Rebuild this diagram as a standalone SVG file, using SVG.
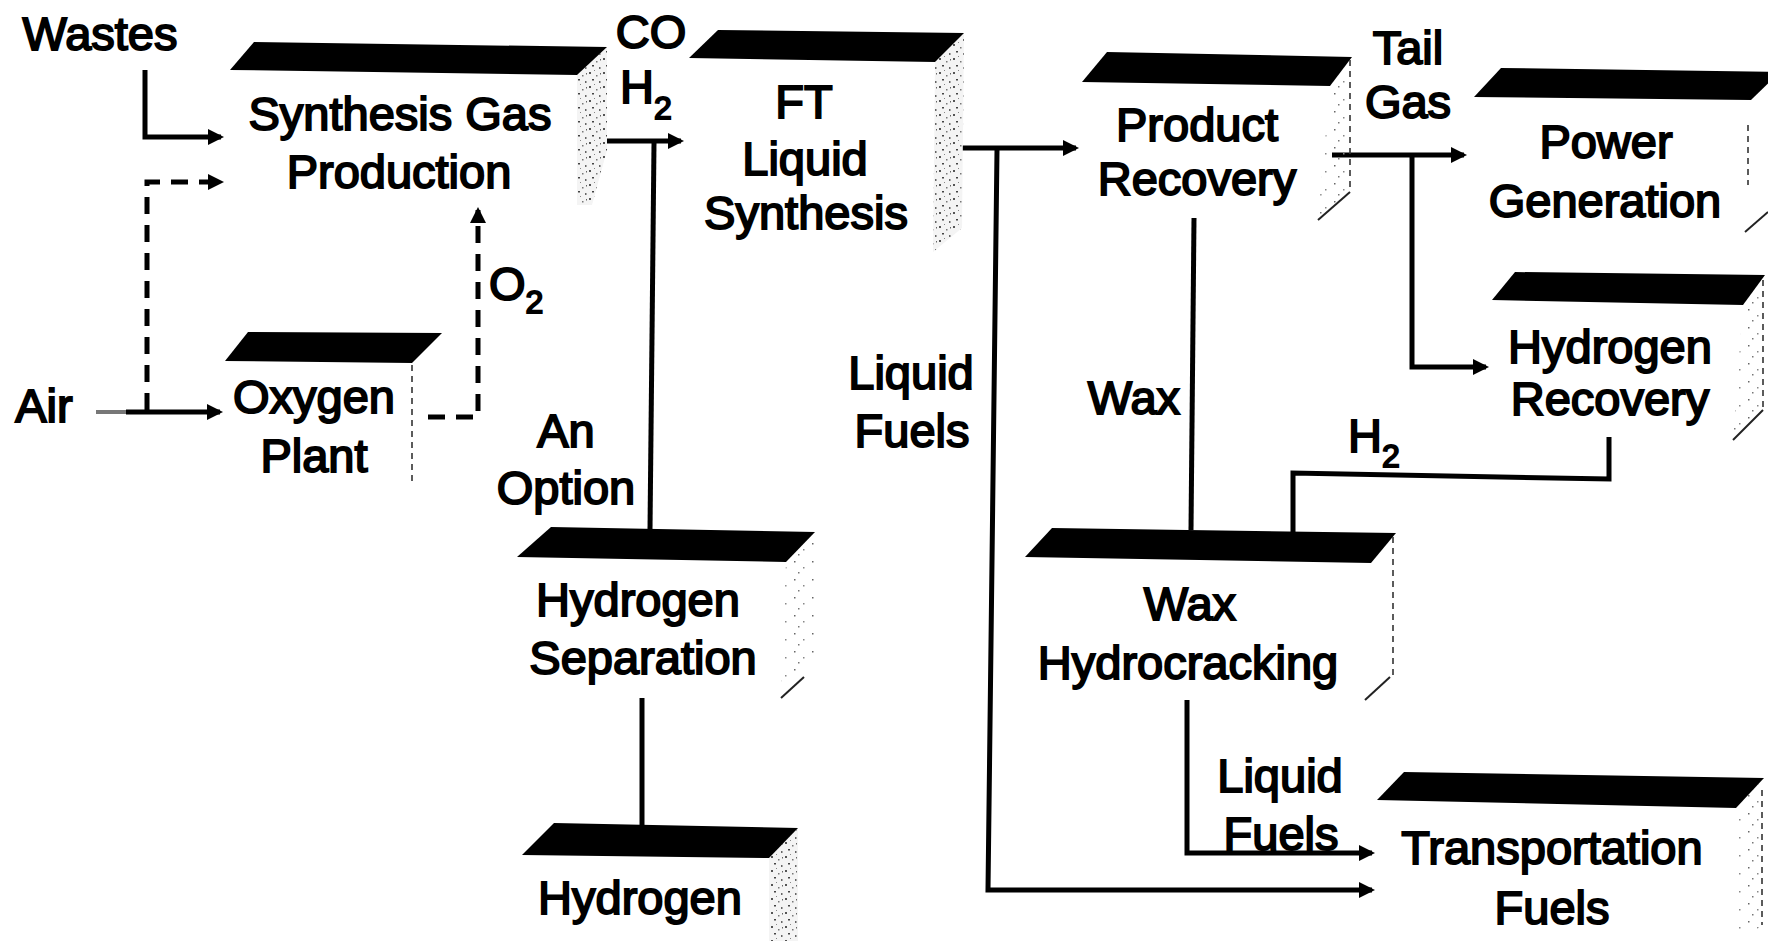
<svg xmlns="http://www.w3.org/2000/svg" width="1768" height="941" viewBox="0 0 1768 941">
<style>
.t{font-family:"Liberation Sans",Arial,sans-serif;font-size:47px;text-anchor:middle;fill:#000;stroke:#000;stroke-width:1.9px}
.s{text-anchor:start}
.sub{font-size:32px}
.bar{fill:#000}
.side{fill:url(#stip)}
.sidel{fill:url(#stip2)}
.edge{fill:none;stroke:#333;stroke-width:1.6;stroke-dasharray:6 5}
.diag{fill:none;stroke:#222;stroke-width:2}
.c{fill:none;stroke:#000;stroke-width:5}
.d{fill:none;stroke:#000;stroke-width:5;stroke-dasharray:17 11}
</style>
<defs>
<marker id="ah" viewBox="0 0 16 16" refX="13" refY="8" markerWidth="16" markerHeight="16" markerUnits="userSpaceOnUse" orient="auto">
<path d="M0,0 L16,8 L0,16 z" fill="#000"/>
</marker>
<pattern id="stip" width="14" height="14" patternUnits="userSpaceOnUse">
<rect width="14" height="14" fill="#f4f4f4"/>
<rect x="1" y="2" width="2" height="2" fill="#555"/>
<rect x="8" y="5" width="1.5" height="1.5" fill="#777"/>
<rect x="4" y="9" width="2" height="1.5" fill="#444"/>
<rect x="11" y="11" width="1.5" height="2" fill="#666"/>
<rect x="6" y="0" width="1" height="1" fill="#888"/>
<rect x="12" y="3" width="1" height="1.5" fill="#666"/>
</pattern>
<pattern id="stip2" width="18" height="18" patternUnits="userSpaceOnUse">
<rect x="2" y="3" width="1.5" height="1.5" fill="#666"/>
<rect x="11" y="9" width="1.5" height="1.5" fill="#888"/>
<rect x="6" y="14" width="1.5" height="1.5" fill="#777"/>
</pattern>
</defs>
<rect width="1768" height="941" fill="#fff"/>

<g id="connectors">
<path class="c" d="M145,70 V137 H221" marker-end="url(#ah)"/>
<path d="M96,412 H126" fill="none" stroke="#777" stroke-width="4"/>
<path class="c" d="M126,412 H220" marker-end="url(#ah)"/>
<path class="d" d="M147,410 V182 H221" marker-end="url(#ah)"/>
<path class="d" d="M428,417 H478 V210" marker-end="url(#ah)"/>
<path class="c" d="M600,141 H681" marker-end="url(#ah)"/>
<path class="c" d="M654,143 L650,530"/>
<path class="c" d="M642,698 V825"/>
<path class="c" d="M948,148 H1076" marker-end="url(#ah)"/>
<path class="c" d="M997,150 L988,890 H1372" marker-end="url(#ah)"/>
<path class="c" d="M1194,218 L1191,530"/>
<path class="c" d="M1332,155 H1464" marker-end="url(#ah)"/>
<path class="c" d="M1412,157 V367 H1486" marker-end="url(#ah)"/>
<path class="c" d="M1609,437 V479 L1293,473 V546"/>
<path class="c" d="M1187,700 V853 H1372" marker-end="url(#ah)"/>
</g>

<g id="labels">
<text class="t" x="100" y="50">Wastes</text>
<text class="t" x="44" y="422">Air</text>
<text class="t" x="651" y="48">CO</text>
<text class="t s" x="620" y="103">H<tspan class="sub" dy="16">2</tspan></text>
<text class="t s" x="489" y="300">O<tspan class="sub" dy="13">2</tspan></text>
<text class="t" x="566" y="447">An</text>
<text class="t" x="566" y="504">Option</text>
<text class="t" x="911" y="389">Liquid</text>
<text class="t" x="912" y="447">Fuels</text>
<text class="t" x="1134" y="414">Wax</text>
<text class="t" x="1408" y="64">Tail</text>
<text class="t" x="1408" y="118">Gas</text>
<text class="t s" x="1348" y="452">H<tspan class="sub" dy="15">2</tspan></text>
<text class="t" x="1280" y="792">Liquid</text>
<text class="t" x="1281" y="850">Fuels</text>
</g>

<g id="synthesis-gas-production">
<polygon class="side" points="577,75 607,47 607,150 592,205 577,205"/>
<polygon class="bar" points="254,42 607,47 577,75 230,70"/>
<text class="t" x="400" y="130">Synthesis Gas</text>
<text class="t" x="399" y="188">Production</text>
</g>

<g id="oxygen-plant">
<polygon class="bar" points="248,332 442,333 412,363 225,361"/>
<path class="edge" d="M412,365 V483"/>
<text class="t" x="314" y="413">Oxygen</text>
<text class="t" x="314" y="472">Plant</text>
</g>

<g id="ft-liquid-synthesis">
<polygon class="side" points="935,62 964,33 962,228 933,252"/>
<polygon class="bar" points="718,30 964,33 935,62 689,58"/>
<text class="t" x="804" y="118">FT</text>
<text class="t" x="805" y="175">Liquid</text>
<text class="t" x="806" y="229">Synthesis</text>
</g>

<g id="product-recovery">
<polygon class="sidel" points="1330,86 1352,57 1350,192 1318,220"/>
<polygon class="bar" points="1107,52 1352,57 1330,86 1082,82"/>
<path class="edge" d="M1350,60 V192"/>
<path class="diag" d="M1350,192 L1318,220"/>
<text class="t" x="1197" y="141">Product</text>
<text class="t" x="1197" y="195">Recovery</text>
</g>

<g id="power-generation">
<polygon class="bar" points="1501,68 1780,72 1751,100 1474,97"/>
<path class="edge" d="M1748,125 V185"/>
<path class="diag" d="M1745,232 L1768,212"/>
<text class="t" x="1606" y="158">Power</text>
<text class="t" x="1605" y="217">Generation</text>
</g>

<g id="hydrogen-recovery">
<polygon class="sidel" points="1743,305 1765,276 1763,410 1733,440"/>
<polygon class="bar" points="1515,272 1765,275 1743,305 1492,300"/>
<path class="edge" d="M1763,280 V410"/>
<path class="diag" d="M1763,410 L1733,440"/>
<text class="t" x="1610" y="363">Hydrogen</text>
<text class="t" x="1610" y="415">Recovery</text>
</g>

<g id="hydrogen-separation">
<polygon class="sidel" points="786,562 815,532 814,660 781,698"/>
<polygon class="bar" points="551,527 815,532 786,562 517,557"/>
<path class="diag" d="M804,677 L781,698"/>
<text class="t" x="638" y="616">Hydrogen</text>
<text class="t" x="643" y="674">Separation</text>
</g>

<g id="hydrogen">
<polygon class="side" points="769,858 798,828 798,941 769,941"/>
<polygon class="bar" points="554,823 798,828 769,858 522,855"/>
<text class="t" x="640" y="914">Hydrogen</text>
</g>

<g id="wax-hydrocracking">
<polygon class="bar" points="1052,528 1396,533 1371,563 1025,557"/>
<path class="edge" d="M1393,537 V677"/>
<path class="diag" d="M1390,677 L1365,700"/>
<text class="t" x="1190" y="620">Wax</text>
<text class="t" x="1188" y="679">Hydrocracking</text>
</g>

<g id="transportation-fuels">
<polygon class="sidel" points="1736,808 1764,778 1764,925 1736,941"/>
<polygon class="bar" points="1404,772 1764,778 1736,808 1377,800"/>
<path class="edge" d="M1762,790 V925"/>
<text class="t" x="1552" y="864">Transportation</text>
<text class="t" x="1552" y="924">Fuels</text>
</g>
</svg>
